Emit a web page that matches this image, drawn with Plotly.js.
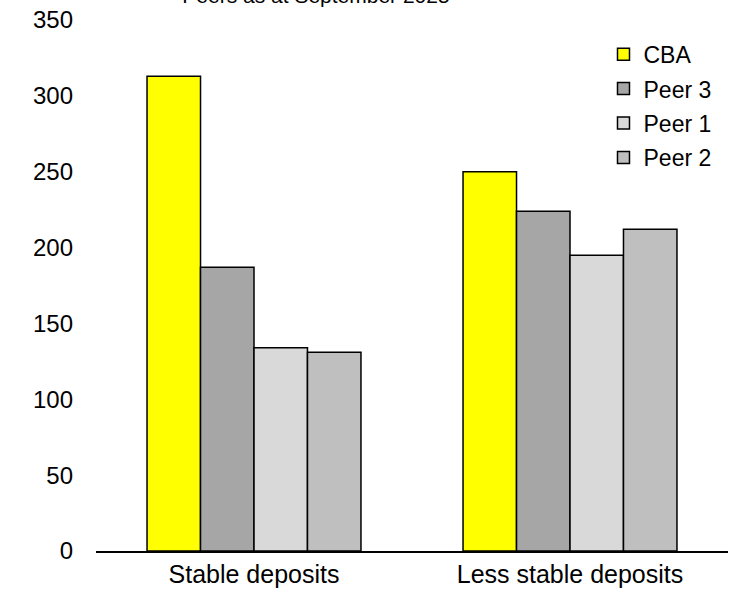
<!DOCTYPE html>
<html>
<head>
<meta charset="utf-8">
<script src="https://cdn.plot.ly/plotly-3.0.1.min.js"></script>
<style>html,body{margin:0;padding:0;background:#fff;}#chart{width:738px;height:597px;}</style>
</head>
<body>
<div id="chart"></div>
<script>
const categories = ["Stable deposits", "Less stable deposits"];
const seriesNames = ["CBA", "Peer 3", "Peer 1", "Peer 2"];
const cba = [313, 250];
const peer3 = [187, 224];
const peer1 = [134, 195];
const peer2 = [131, 212];
const colors = ["#FFFF00", "#A6A6A6", "#D9D9D9", "#BFBFBF"];
const titleText = "Peers as at September 2025";
const yTicks = [0, 50, 100, 150, 200, 250, 300, 350];

const values = [cba, peer3, peer1, peer2];
const font = "Arial, 'Liberation Sans', sans-serif";

const traces = values.map((v, i) => ({
  type: "bar",
  name: seriesNames[i],
  x: categories,
  y: v,
  legendgroup: "g" + i,
  marker: {color: colors[i], line: {color: "#000000", width: 1.5}},
  hoverinfo: "x+y+name"
}));

const layout = {
  width: 738, height: 597,
  margin: {l: 96, r: 10, t: 20, b: 46},
  paper_bgcolor: "#ffffff", plot_bgcolor: "#ffffff",
  font: {family: font, size: 23, color: "#000000"},
  title: {text: titleText, x: 316/738, xanchor: "center", xref: "container",
          y: 1 - 3/597, yanchor: "bottom", yref: "container",
          font: {family: font, size: 21, color: "#000000"}},
  barmode: "group",
  bargap: 0.323,
  bargroupgap: 0,
  showlegend: true,
  legend: {x: 0.803, xanchor: "left", y: 0.976, yanchor: "top",
           font: {family: font, size: 23, color: "#000000"},
           tracegroupgap: 1.5, itemwidth: 30, bgcolor: "rgba(0,0,0,0)"},
  xaxis: {type: "category", showline: true, linecolor: "#000000", linewidth: 1.5,
          showgrid: false, ticks: "", zeroline: false,
          tickfont: {family: font, size: 25, color: "#000000"}},
  yaxis: {range: [0, 350], tickvals: yTicks, ticktext: yTicks.map(String),
          showline: false, showgrid: false, zeroline: false, ticks: "",
          ticklabelstandoff: 22,
          tickfont: {family: font, size: 24, color: "#000000"}}
};

Plotly.newPlot("chart", traces, layout, {displayModeBar: false, staticPlot: true});
</script>
</body>
</html>
